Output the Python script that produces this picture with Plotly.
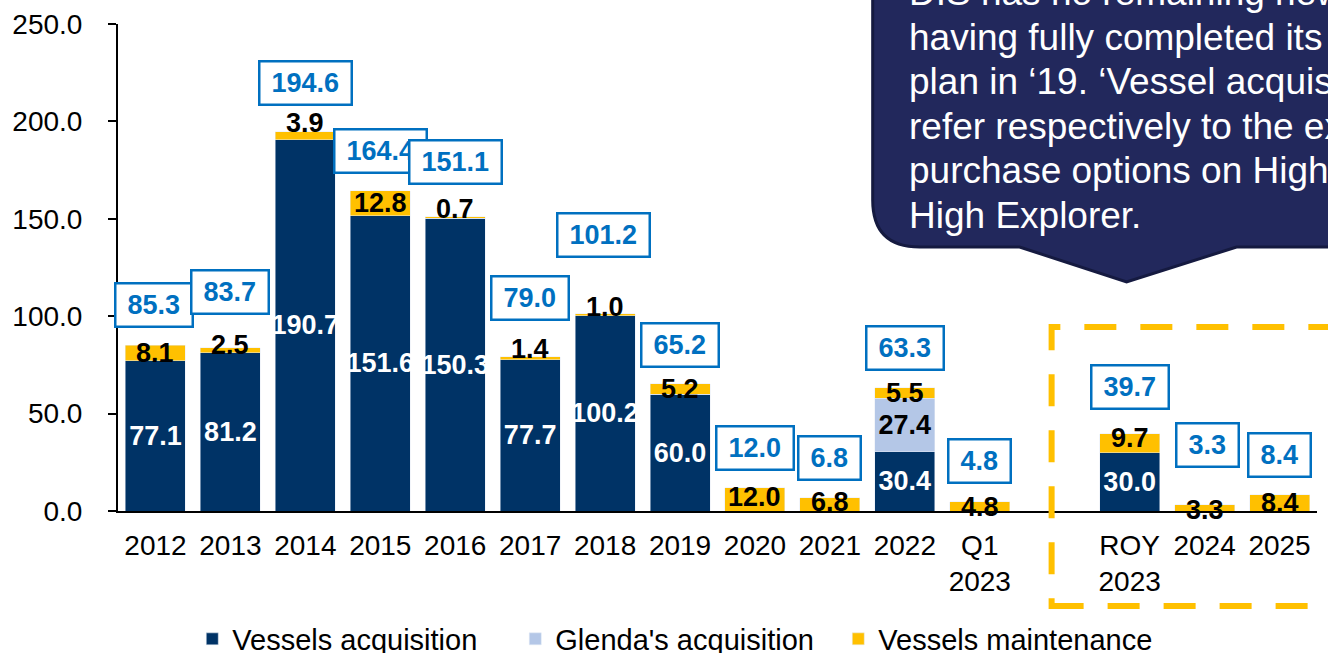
import plotly.graph_objects as go

# data (USD mln)
categories = ["2012", "2013", "2014", "2015", "2016", "2017", "2018", "2019",
              "2020", "2021", "2022", "Q1<br>2023", "ROY<br>2023", "2024", "2025"]
vessels_acq = [77.1, 81.2, 190.7, 151.6, 150.3, 77.7, 100.2, 60.0,
               0, 0, 30.4, 0, 30.0, 0, 0]
glenda_acq = [0, 0, 0, 0, 0, 0, 0, 0, 0, 0, 27.4, 0, 0, 0, 0]
maintenance = [8.1, 2.5, 3.9, 12.8, 0.7, 1.4, 1.0, 5.2,
               12.0, 6.8, 5.5, 4.8, 9.7, 3.3, 8.4]
totals = [85.3, 83.7, 194.6, 164.4, 151.1, 79.0, 101.2, 65.2,
          12.0, 6.8, 63.3, 4.8, 39.7, 3.3, 8.4]

note_lines = ["DIS has no remaining newbuilding",
              "having fully completed its investment",
              "plan in ‘19. ‘Vessel acquisition’",
              "refer respectively to the exercise of",
              "purchase options on High Trader and",
              "High Explorer."]

# slot positions: one empty slot between Q1 2023 and ROY 2023
xpos = list(range(12)) + [13, 14, 15]

# pixel lifts for the labels (layout only)
total_lift = [40, 56, 49, 40, 55, 59, 79, 39, 40, 40, 40, 41, 47, 60, 40]
total_nudge = [-1, 0, 0, 0, 0, 0, -2, 0, 0, 0, 0, 0, 0, 3, 0]
maint_lift = [0, 5, 13, 0, 9, 9, 8, 0, 2, 2, 0, -1, 5, -2, 0]

NAVY = "#003366"
LIGHT = "#B4C7E7"
GOLD = "#FFC000"
BLUE = "#0070C0"
FONT = "Liberation Sans, Arial, sans-serif"

FIG_W, FIG_H = 1328, 653
# plot area in pixels
L, R, T, B = 118, 1317.5, 24, 511


def px(x):
    return (x - L) / (R - L)


def py(y):
    return (B - y) / (B - T)


fig = go.Figure()
fig.add_trace(go.Bar(
    x=xpos, y=vessels_acq, name="Vessels acquisition", marker_color=NAVY,
    text=[f"{v:.1f}" if v else "" for v in vessels_acq],
    textposition="inside", insidetextanchor="middle", textangle=0,
    constraintext="none",
    textfont=dict(color="white", size=27, family=FONT, weight="bold"),
))
fig.add_trace(go.Bar(
    x=xpos, y=glenda_acq, name="Glenda's acquisition", marker_color=LIGHT,
    text=[f"{v:.1f}" if v else "" for v in glenda_acq],
    textposition="inside", insidetextanchor="middle", textangle=0,
    constraintext="none",
    textfont=dict(color="black", size=27, family=FONT, weight="bold"),
))
fig.add_trace(go.Bar(
    x=xpos, y=maintenance, name="Vessels maintenance", marker_color=GOLD,
))

# maintenance labels
for i, m in enumerate(maintenance):
    base = vessels_acq[i] + glenda_acq[i]
    fig.add_annotation(
        x=xpos[i], y=base + m / 2, text=f"{m:.1f}", showarrow=False,
        yshift=maint_lift[i], xanchor="center", yanchor="middle",
        font=dict(color="black", size=27, family=FONT, weight="bold"),
    )

# boxed totals
for i, t in enumerate(totals):
    s = f"{t:.1f}"
    w = sum(15 if c.isdigit() else 7.5 for c in s) + 16
    fig.add_annotation(
        x=xpos[i], y=t, text=s, showarrow=False,
        yshift=total_lift[i], xshift=total_nudge[i],
        xanchor="center", yanchor="middle", width=w, height=35,
        bgcolor="white", bordercolor=BLUE, borderwidth=2.5, borderpad=3,
        font=dict(color=BLUE, size=27, family=FONT, weight="bold"),
    )

# callout bubble
path = f"M {px(873)},{py(-30)} L {px(873)},{py(200)} "
path += f"Q {px(873)},{py(247)} {px(920)},{py(247)} "
path += f"L {px(1020)},{py(247)} L {px(1127)},{py(282)} L {px(1237)},{py(247)} "
path += f"L {px(1360)},{py(247)} L {px(1360)},{py(-30)} Z"
fig.add_shape(type="path", path=path, xref="paper", yref="paper",
              fillcolor="#22285C", line=dict(color="#151A40", width=3))
for k, line in enumerate(note_lines):
    fig.add_annotation(
        xref="paper", yref="paper", x=px(907), y=py(215 - (5 - k) * 44.5),
        xanchor="left", yanchor="middle", align="left", showarrow=False,
        text=line, font=dict(color="white", size=37, family=FONT),
    )

# dashed frame round the forecast years
fig.add_shape(type="rect", xref="paper", yref="paper",
              x0=px(1052), x1=px(1365), y0=py(606), y1=py(327),
              line=dict(color=GOLD, width=6, dash="32px,24px"),
              fillcolor="rgba(0,0,0,0)")

fig.update_layout(
    width=FIG_W, height=FIG_H, autosize=False,
    margin=dict(l=L, r=FIG_W - R, t=T, b=FIG_H - B, autoexpand=False),
    barmode="stack", bargap=0.2,
    plot_bgcolor="white", paper_bgcolor="white",
    font=dict(family=FONT, color="black", size=28),
    showlegend=True,
    legend=dict(orientation="h", x=px(677), xanchor="center",
                y=py(639), yanchor="middle", traceorder="normal",
                entrywidth=278, entrywidthmode="pixels",
                font=dict(size=29, family=FONT, color="black")),
)
fig.update_xaxes(
    range=[-0.5, 15.5], tickvals=xpos, ticktext=categories,
    showline=True, linecolor="black", linewidth=2, ticks="",
    showgrid=False, zeroline=False, ticklabelstandoff=8, automargin=False,
    tickfont=dict(size=28, color="black", family=FONT),
)
fig.update_yaxes(
    range=[0, 250], tickvals=[0, 50, 100, 150, 200, 250], tickformat=".1f",
    showline=True, linecolor="black", linewidth=2,
    ticks="outside", ticklen=8, tickwidth=2, tickcolor="black",
    showgrid=False, zeroline=False, ticklabelstandoff=20, automargin=False,
    tickfont=dict(size=28, color="black", family=FONT),
)

# drop the page's default body margin so the figure sits at the corner,
# and hide the modebar
fig.write_html("out.html", config={"displayModeBar": False},
               post_script="document.body.style.margin = '0';")
